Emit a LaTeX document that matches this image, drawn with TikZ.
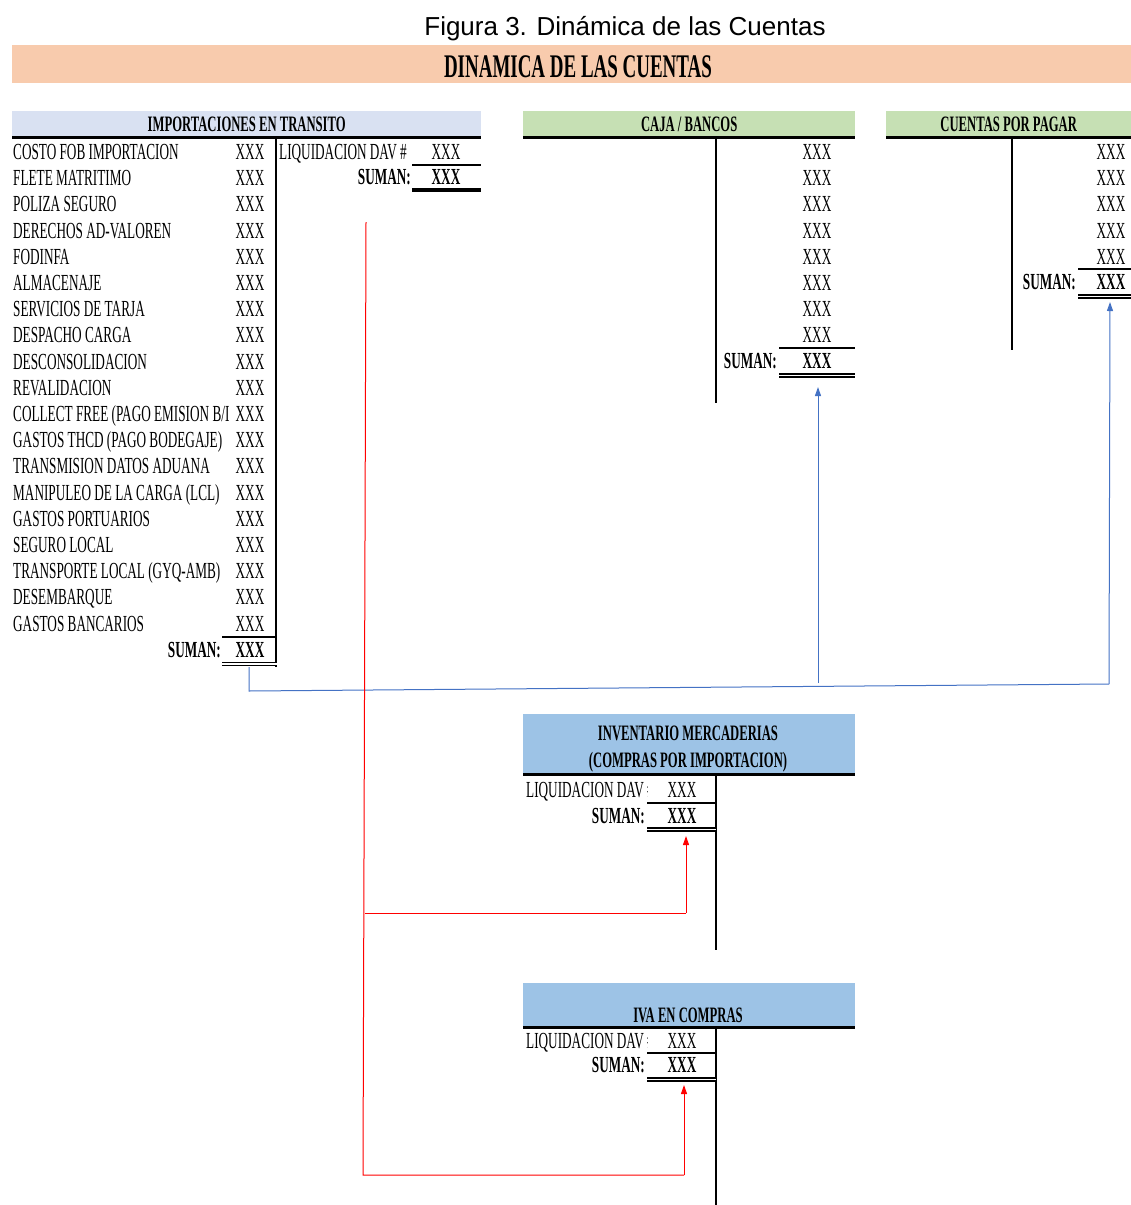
\documentclass[tikz,border=0pt]{standalone}
\usepackage{fontspec}
\setmainfont{Liberation Serif}
\newfontfamily\narrowfont[FakeStretch=0.575]{Liberation Serif}
\newfontfamily\captionfont{Liberation Sans}
\usetikzlibrary{arrows.meta}
\definecolor{bandorange}{HTML}{F8CBAD}
\definecolor{lavender}{HTML}{D9E1F2}
\definecolor{lightgreen}{HTML}{C6E0B4}
\definecolor{skyblue}{HTML}{9DC3E6}
\definecolor{linkblue}{HTML}{4472C4}
\tikzset
{
    rowtext/.style = {font=\narrowfont\fontsize{23}{23}\selectfont, inner sep=0pt, anchor=base west},
    amount/.style = {font=\narrowfont\fontsize{23}{23}\selectfont, inner sep=0pt, anchor=base},
    sumlabel/.style = {font=\narrowfont\bfseries\fontsize{23}{23}\selectfont, inner sep=0pt, anchor=base east},
    sumamount/.style = {font=\narrowfont\bfseries\fontsize{23}{23}\selectfont, inner sep=0pt, anchor=base},
    headbox/.style = {inner sep=0pt, anchor=north west, font=\narrowfont\bfseries\fontsize{22}{27}\selectfont, align=center},
    tline/.style = {line width=2pt},
    headline/.style = {line width=3pt},
    sumline/.style = {double, line width=1.6pt, double distance=1.4pt},
    blueline/.style = {draw=linkblue, line width=1pt},
    redline/.style = {draw=red, line width=1pt}
}
\begin{document}
\begin{tikzpicture}[x=1pt, y=-1pt, >={Triangle[length=9pt, width=6pt]}]
\useasboundingbox (0,0) rectangle (1131,1205);
% title
\node [font=\captionfont\fontsize{26}{26}\selectfont] (caption) at (625,29) {Figura 3. Dinámica de las Cuentas};
\node [fill=bandorange, minimum width=1119pt, minimum height=38pt, inner sep=0pt, anchor=north west] (band) at (12,45) {};
\node [font=\narrowfont\bfseries\fontsize{33}{33}\selectfont] (maintitle) at (578,67) {DINAMICA DE LAS CUENTAS};

% importaciones en transito
\node [headbox, fill=lavender, minimum width=469pt, minimum height=26pt] (imphead) at (12,111) {IMPORTACIONES EN TRANSITO};
\draw [headline] (imphead.south west) -- (imphead.south east);
\draw [tline] (276,137) -- (276,667);
\foreach \item [count=\i from 0] in {COSTO FOB IMPORTACION, FLETE MATRITIMO, POLIZA SEGURO, DERECHOS AD-VALOREN, FODINFA, ALMACENAJE, SERVICIOS DE TARJA, DESPACHO CARGA, DESCONSOLIDACION, REVALIDACION, COLLECT FREE (PAGO EMISION B/I, GASTOS THCD (PAGO BODEGAJE), TRANSMISION DATOS ADUANA, MANIPULEO DE LA CARGA (LCL), GASTOS PORTUARIOS, SEGURO LOCAL, TRANSPORTE LOCAL (GYQ-AMB), DESEMBARQUE, GASTOS BANCARIOS}
{
    \node [rowtext] (improw\i) at (13,{159.5+26.2*\i}) {\item};
    \node [amount] (impamt\i) at (250,{159.5+26.2*\i}) {XXX};
}
\node [sumlabel] (impsumlbl) at (221,657.5) {SUMAN:};
\node [sumamount] (impsum) at (250,657.5) {XXX};
\draw [tline] (222,637) -- (276,637);
\draw [sumline] (222,664) -- (277,664);
\node [rowtext] (impliq) at (279,159.5) {LIQUIDACION DAV \#};
\node [amount] (impliqamt) at (446,159.5) {XXX};
\draw [tline] (412,165) -- (481,165);
\node [sumlabel] (imprsumlbl) at (411,184.5) {SUMAN:};
\node [sumamount] (imprsum) at (446,184.5) {XXX};
\draw [line width=3.5pt] (412,190) -- (481,190);

% caja / bancos
\node [headbox, fill=lightgreen, minimum width=332pt, minimum height=26pt] (cajahead) at (523,111) {CAJA / BANCOS};
\draw [headline] (cajahead.south west) -- (cajahead.south east);
\draw [tline] (716,137) -- (716,403);
\foreach \i in {0,...,7}
    \node [amount] (cajaamt\i) at (817,{159.5+26.2*\i}) {XXX};
\node [sumlabel] (cajasumlbl) at (777,368.5) {SUMAN:};
\node [sumamount] (cajasum) at (817,368.5) {XXX};
\draw [tline] (779,348) -- (855,348);
\draw [sumline] (779,375.5) -- (855,375.5);

% cuentas por pagar
\node [headbox, fill=lightgreen, minimum width=245pt, minimum height=26pt] (cxphead) at (886,111) {CUENTAS POR PAGAR};
\draw [headline] (cxphead.south west) -- (cxphead.south east);
\draw [tline] (1012,137) -- (1012,350);
\foreach \i in {0,...,4}
    \node [amount] (cxpamt\i) at (1111,{159.5+26.2*\i}) {XXX};
\node [sumlabel] (cxpsumlbl) at (1076,289.5) {SUMAN:};
\node [sumamount] (cxpsum) at (1111,289.5) {XXX};
\draw [tline] (1078,269) -- (1131,269);
\draw [sumline] (1078,296.5) -- (1131,296.5);

% inventario mercaderias
\node [fill=skyblue, minimum width=332pt, minimum height=60pt, inner sep=0pt, anchor=north west] (invhead) at (523,714) {};
\node [headbox, anchor=center] (invtitle) at (688,749) {INVENTARIO MERCADERIAS\\(COMPRAS POR IMPORTACION)};
\draw [headline] (invhead.south west) -- (invhead.south east);
\draw [tline] (716,775) -- (716,950);
\begin{scope}
\clip (523,776) rectangle (647,805);
\node [rowtext] (invliq) at (526,797.5) {LIQUIDACION DAV \#};
\end{scope}
\node [amount] (invliqamt) at (682,797.5) {XXX};
\draw [tline] (647,803) -- (716,803);
\node [sumlabel] (invsumlbl) at (645,823.5) {SUMAN:};
\node [sumamount] (invsum) at (682,823.5) {XXX};
\draw [sumline] (647,829.5) -- (716,829.5);

% iva en compras
\node [fill=skyblue, minimum width=332pt, minimum height=44pt, inner sep=0pt, anchor=north west] (ivahead) at (523,983) {};
\node [font=\narrowfont\bfseries\fontsize{22}{22}\selectfont, inner sep=0pt, anchor=base] (ivatitle) at (688,1022) {IVA EN COMPRAS};
\draw [headline] (ivahead.south west) -- (ivahead.south east);
\draw [tline] (716,1028) -- (716,1205);
\begin{scope}
\clip (523,1029) rectangle (647,1055);
\node [rowtext] (ivaliq) at (526,1048.5) {LIQUIDACION DAV \#};
\end{scope}
\node [amount] (ivaliqamt) at (682,1048.5) {XXX};
\draw [tline] (647,1053) -- (716,1053);
\node [sumlabel] (ivasumlbl) at (645,1072.5) {SUMAN:};
\node [sumamount] (ivasum) at (682,1072.5) {XXX};
\draw [sumline] (647,1079.5) -- (716,1079.5);

% blue connectors
\coordinate (impfoot) at (249,667);
\coordinate (bluel) at (249,691);
\coordinate (bluem) at (818,683);
\coordinate (bluer) at (1109,684);
\coordinate (cajatip) at (818,387);
\coordinate (cxptip) at (1110,302);
\draw [blueline] (impfoot) -- (bluel) -- (bluer);
\draw [blueline, ->] (bluer) -- (cxptip);
\draw [blueline, ->] (bluem) -- (cajatip);

% red connectors
\coordinate (redtop) at (366,222);
\coordinate (redmid) at (365,913);
\coordinate (redbot) at (363,1175);
\coordinate (redinv) at (686,913);
\coordinate (rediva) at (684,1175);
\coordinate (invtip) at (686,836);
\coordinate (ivatip) at (684,1085);
\draw [redline] (redtop) -- (redbot) -- (rediva);
\draw [redline, ->] (rediva) -- (ivatip);
\draw [redline] (redmid) -- (redinv);
\draw [redline, ->] (redinv) -- (invtip);
\end{tikzpicture}
\end{document}
